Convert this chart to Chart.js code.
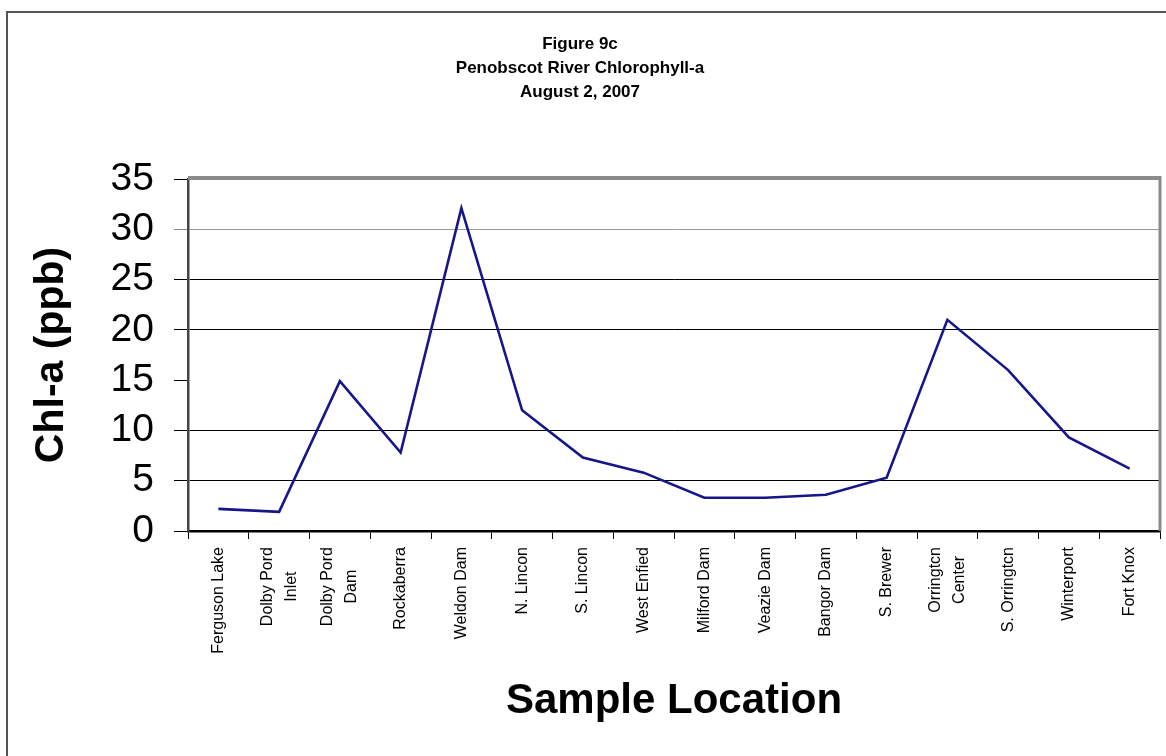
<!DOCTYPE html>
<html>
<head>
<meta charset="utf-8">
<script src="https://cdn.jsdelivr.net/npm/chart.js@4/dist/chart.umd.min.js"></script>
<style>
  html, body { margin: 0; padding: 0; background: #fff; }
  #wrap { position: relative; width: 1166px; height: 756px; }
</style>
</head>
<body>
<div id="wrap"><canvas id="c" width="1166" height="756"></canvas></div>
<script>
const titleLines = ["Figure 9c", "Penobscot River Chlorophyll-a", "August 2, 2007"];
const categories = [
  ["Ferguson Lake"],
  ["Dolby Pord", "Inlet"],
  ["Dolby Pord", "Dam"],
  ["Rockaberra"],
  ["Weldon Dam"],
  ["N. Lincon"],
  ["S. Lincon"],
  ["West Enfied"],
  ["Milford Dam"],
  ["Veazie Dam"],
  ["Bangor Dam"],
  ["S. Brewer"],
  ["Orringtcn", "Center"],
  ["S. Orringtcn"],
  ["Winterport"],
  ["Fort Knox"]
];
const chlA = [2.2, 1.9, 14.9, 7.8, 32.1, 12.0, 7.3, 5.8, 3.3, 3.3, 3.6, 5.3, 21.0, 16.0, 9.3, 6.2];
const yTicks = [0, 5, 10, 15, 20, 25, 30, 35];
const yTitle = "Chl-a (ppb)";
const xTitle = "Sample Location";

const FONT = "'Liberation Sans', Arial, sans-serif";

const framePlugin = {
  id: 'frame',
  beforeDraw(chart) {
    const ctx = chart.ctx;
    ctx.save();
    ctx.strokeStyle = '#555';
    ctx.lineWidth = 2;
    ctx.beginPath();
    ctx.moveTo(7, 760);
    ctx.lineTo(7, 12);
    ctx.lineTo(1170, 12);
    ctx.stroke();
    ctx.restore();
  },
  afterDatasetsDraw(chart) {
    const ctx = chart.ctx;
    const a = chart.chartArea;
    ctx.save();
    ctx.strokeStyle = '#8a8a8a';
    ctx.lineWidth = 4;
    ctx.beginPath();
    ctx.moveTo(a.left, a.top - 1);
    ctx.lineTo(a.right, a.top - 1);
    ctx.stroke();
    ctx.lineWidth = 3;
    ctx.beginPath();
    ctx.moveTo(a.right, a.top - 3);
    ctx.lineTo(a.right, a.bottom);
    ctx.stroke();
    ctx.restore();
  },
  afterDraw(chart) {
    const ctx = chart.ctx;
    const xs = chart.scales.x;
    const lh = 24;
    const topY = xs.top + 16;
    ctx.save();
    ctx.font = "16px " + FONT;
    ctx.fillStyle = '#000';
    ctx.textBaseline = 'middle';
    ctx.textAlign = 'center';
    categories.forEach((lines, i) => {
      const px = xs.getPixelForValue(i);
      const maxW = Math.max(...lines.map(l => ctx.measureText(l).width));
      const n = lines.length;
      lines.forEach((l, j) => {
        const cx = px + (j - (n - 1) / 2) * lh;
        const cy = topY + maxW / 2;
        ctx.save();
        ctx.translate(cx, cy);
        ctx.rotate(-Math.PI / 2);
        ctx.fillText(l, 0, 0);
        ctx.restore();
      });
    });
    ctx.restore();
  }
};

new Chart(document.getElementById('c'), {
  type: 'line',
  data: {
    labels: categories,
    datasets: [{
      data: chlA,
      borderColor: '#16168a',
      borderWidth: 2.6,
      pointRadius: 0,
      tension: 0,
      fill: false
    }]
  },
  options: {
    responsive: false,
    animation: false,
    events: [],
    layout: { padding: { left: 0, right: 6, top: 0, bottom: 0 } },
    plugins: {
      legend: { display: false },
      tooltip: { enabled: false },
      title: {
        display: true,
        text: titleLines,
        color: '#000',
        font: { family: FONT, size: 17, weight: 'bold', lineHeight: 24 / 17 },
        padding: { top: 32, bottom: 75 }
      }
    },
    scales: {
      x: {
        type: 'category',
        offset: true,
        grid: {
          offset: true,
          drawOnChartArea: false,
          drawTicks: true,
          tickLength: 8,
          tickColor: '#000',
          tickWidth: 1
        },
        border: { display: true, color: '#000', width: 2.5 },
        ticks: { display: false, autoSkip: false },
        title: {
          display: true,
          text: xTitle,
          color: '#000',
          font: { family: FONT, size: 42, weight: 'bold', lineHeight: 1.2 },
          padding: { top: 0, bottom: 29 }
        },
        afterFit(scale) { scale.height = 225; }
      },
      y: {
        min: 0,
        max: 35,
        afterBuildTicks(scale) { scale.ticks = yTicks.map(v => ({ value: v })); },
        grid: {
          color: ctx => {
            const v = ctx.tick ? ctx.tick.value : null;
            if (v === 30) return '#999';
            if (v === 0 || v === 35 || v === 15) return 'rgba(0,0,0,0)';
            return '#000';
          },
          lineWidth: 1,
          drawTicks: true,
          tickLength: 14,
          tickColor: ctx => (ctx.tick && ctx.tick.value === 30) ? '#888' : '#000'
        },
        border: { display: true, color: '#444', width: 2.5 },
        ticks: {
          color: '#000',
          font: { family: FONT, size: 39 },
          padding: 20
        },
        title: {
          display: true,
          text: yTitle,
          color: '#000',
          font: { family: FONT, size: 41, weight: 'bold', lineHeight: 1.2 },
          padding: { top: 27, bottom: 0 }
        },
        afterFit(scale) { scale.width = 188; }
      }
    }
  },
  plugins: [framePlugin]
});
</script>
</body>
</html>
